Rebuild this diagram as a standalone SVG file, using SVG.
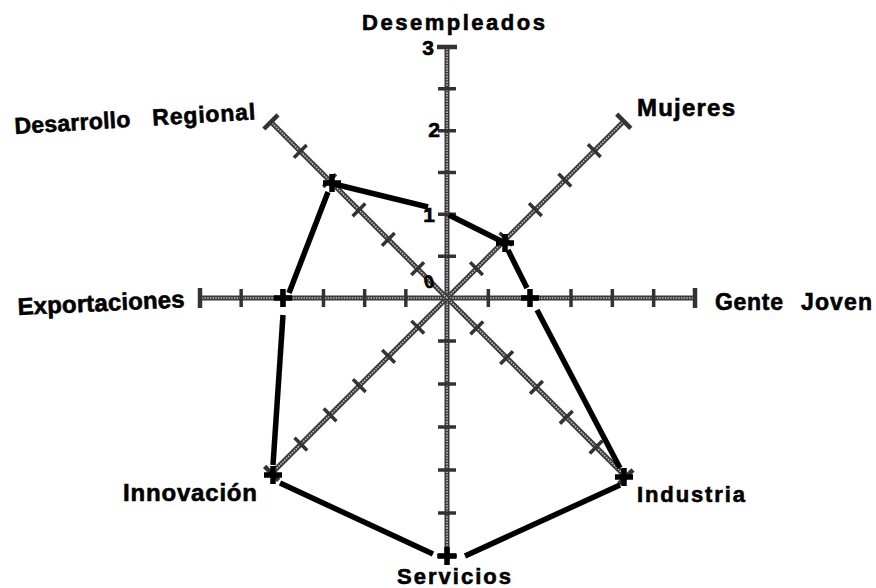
<svg xmlns="http://www.w3.org/2000/svg" width="876" height="588" viewBox="0 0 876 588">
<style>
  .axo{stroke:#3a3a3a;stroke-width:5;fill:none}
  .axi{stroke:#c4c4c4;stroke-width:1.6;stroke-dasharray:1.5 1.2;fill:none}
  .tick{stroke:#333;stroke-width:3.5;fill:none}
  .cap{stroke:#333;stroke-width:4.5;fill:none}
  .data{stroke:#000;stroke-width:5.5;fill:none;stroke-linecap:butt}
  .mark{stroke:#000;stroke-width:5.5;fill:none}
  .lbl{font-family:"Liberation Sans",Arial,sans-serif;font-weight:bold;fill:#000;stroke:#000;stroke-width:0.6}
</style>
<defs>
  <g id="spoke">
    <line x1="0" y1="0" x2="249" y2="0" class="axo"/>
    <line x1="0" y1="0" x2="249" y2="0" class="axi"/>
    <path class="tick" d="M41.5,-9V9M83,-9V9M124.5,-9V9M166,-9V9M207.5,-9V9"/>
    <path class="cap" d="M249,-10V10"/>
  </g>
  <path id="cross" d="M-9,0H9M0,-9V9"/>
</defs>
<rect width="876" height="588" fill="#fff"/>

<g id="axes">
  <use href="#spoke" transform="translate(447,298) rotate(-90) scale(1.008,1)"/>
  <use href="#spoke" transform="translate(447,298) rotate(-45) scale(1.004,1)"/>
  <use href="#spoke" transform="translate(447,298) rotate(0) scale(0.996,1)"/>
  <use href="#spoke" transform="translate(447,298) rotate(45) scale(1.016,1)"/>
  <use href="#spoke" transform="translate(447,298) rotate(90) scale(1.036,1)"/>
  <use href="#spoke" transform="translate(447,298) rotate(135) scale(0.996,1)"/>
  <use href="#spoke" transform="translate(447,298) rotate(180) scale(0.992,1)"/>
  <use href="#spoke" transform="translate(447,298) rotate(-135) scale(1.0,1)"/>
</g>

<g id="connectors">
  <line class="data" x1="334" y1="184" x2="428" y2="207"/>
  <line class="data" x1="449" y1="215" x2="503" y2="242"/>
  <line class="data" x1="508" y1="250" x2="527" y2="288"/>
  <line class="data" x1="537" y1="310" x2="620" y2="468"/>
  <line class="data" x1="620" y1="485" x2="465" y2="556"/>
  <line class="data" x1="433" y1="554" x2="280" y2="483"/>
  <line class="data" x1="273" y1="465" x2="283" y2="315"/>
  <line class="data" x1="289" y1="293" x2="328" y2="192"/>
</g>

<g id="markers">
  <use href="#cross" class="mark" transform="translate(332,183)"/>
  <use href="#cross" class="mark" transform="translate(505,243)"/>
  <use href="#cross" class="mark" transform="translate(530,298)"/>
  <use href="#cross" class="mark" transform="translate(624,477)"/>
  <use href="#cross" class="mark" transform="translate(447,556)"/>
  <use href="#cross" class="mark" transform="translate(273,475)"/>
  <use href="#cross" class="mark" transform="translate(283,298)"/>
</g>

<g id="scale-labels" class="lbl">
  <text x="434" y="55" font-size="21" text-anchor="end">3</text>
  <text x="440" y="137" font-size="21" text-anchor="end">2</text>
  <text x="435" y="222" font-size="21" text-anchor="end">1</text>
  <text x="434" y="288" font-size="18" text-anchor="end" transform="rotate(-15 429 282)">0</text>
</g>

<g id="node-desempleados" class="lbl">
  <text x="362" y="30" font-size="22" textLength="183" lengthAdjust="spacing">Desempleados</text>
</g>
<g id="node-mujeres" class="lbl">
  <text x="637" y="116" font-size="24" textLength="98" lengthAdjust="spacing">Mujeres</text>
</g>
<g id="node-gente-joven" class="lbl">
  <text y="310" font-size="23"><tspan x="715" textLength="68" lengthAdjust="spacing">Gente</tspan><tspan x="801" textLength="71" lengthAdjust="spacing">Joven</tspan></text>
</g>
<g id="node-industria" class="lbl">
  <text x="637" y="502" font-size="22" textLength="108" lengthAdjust="spacing">Industria</text>
</g>
<g id="node-servicios" class="lbl">
  <text x="397" y="584" font-size="22" textLength="114" lengthAdjust="spacing">Servicios</text>
</g>
<g id="node-innovacion" class="lbl">
  <text x="123" y="501" font-size="24" textLength="134" lengthAdjust="spacing">Innovación</text>
</g>
<g id="node-exportaciones" class="lbl">
  <text x="0" y="0" font-size="24" textLength="167" lengthAdjust="spacing" transform="translate(18,315) rotate(-2.7)">Exportaciones</text>
</g>
<g id="node-desarrollo-regional" class="lbl">
  <text font-size="23" transform="translate(15,134) rotate(-3.5)"><tspan x="0" y="0" textLength="116" lengthAdjust="spacing">Desarrollo</tspan><tspan x="138" y="0" textLength="103" lengthAdjust="spacing">Regional</tspan></text>
</g>
</svg>
